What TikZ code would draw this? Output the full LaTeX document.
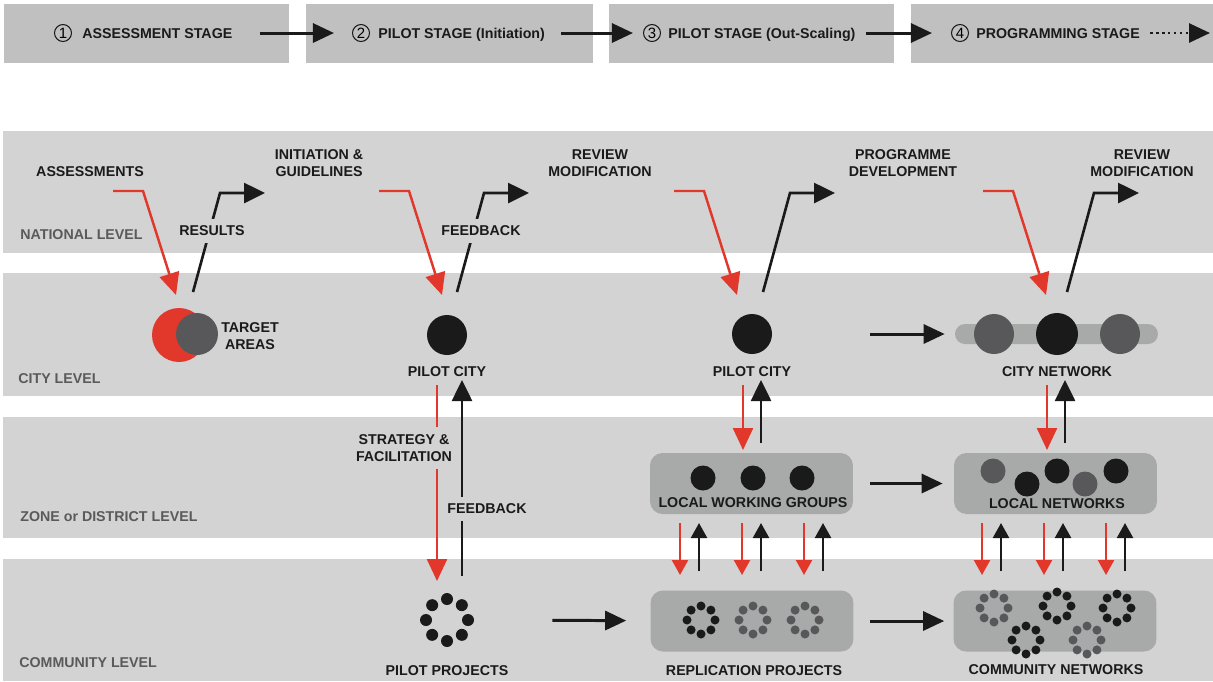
\documentclass[tikz,border=0pt]{standalone}
\usepackage{fontspec}
\setmainfont{Liberation Sans}
\usetikzlibrary{arrows.meta,positioning}
\definecolor{bandgray}{HTML}{D3D3D3}
\definecolor{stagegray}{HTML}{C0C0C0}
\definecolor{boxgray}{HTML}{A8A9A9}
\definecolor{dotgray}{HTML}{58585A}
\definecolor{ink}{HTML}{1A1A1A}
\definecolor{arrred}{HTML}{E2382C}
\definecolor{lvlgray}{HTML}{5A5A5A}
\newcommand{\ring}[4]{\foreach \a in {0,45,...,315}
 	{\fill[#4,shift={(#1)}] (\a:#2) circle (#3);}}
\newcommand{\bfs}{\bfseries\fontsize{8.1}{10}\selectfont}

\begin{document}
\begin{tikzpicture}[x=0.02cm,y=-0.02cm,
	band/.style={fill=bandgray},
	stagebox/.style={fill=stagegray},
	num/.style={circle,draw=ink,line width=0.6pt,inner sep=0pt,minimum size=0.34cm,
		font=\fontsize{8.5}{9}\selectfont},
	stagetxt/.style={anchor=base west,inner sep=0pt,font=\bfs,text=ink},
	lvl/.style={anchor=base west,inner sep=0pt,font=\bfs,text=lvlgray},
	lbl/.style={align=center,inner sep=1pt,font=\bfs,text=ink},
	mask/.style={lbl,fill=bandgray,inner xsep=1pt,inner ysep=4pt},
	dot/.style={circle,inner sep=0pt,minimum size=#1},
	roundbox/.style={fill=boxgray,rounded corners=0.25cm,minimum width=4.06cm,
		minimum height=1.22cm,inner sep=0pt},
	flow/.style={ink,line width=1.7pt,-{Triangle[length=0.42cm,width=0.38cm]}},
	redin/.style={arrred,line width=1.4pt,-{Triangle[length=0.44cm,width=0.4cm]}},
	blkout/.style={ink,line width=1.5pt,-{Triangle[length=0.42cm,width=0.4cm]}},
	smallred/.style={arrred,line width=1.3pt,-{Triangle[length=0.3cm,width=0.32cm]}},
	smallblk/.style={ink,line width=1.3pt,-{Triangle[length=0.3cm,width=0.32cm]}}]
\useasboundingbox (0,0) rectangle (1213,681);
\fill[white] (0,0) rectangle (1213,681);
	\fill[band] (3,131) rectangle (1213,253);
	\fill[band] (3,273) rectangle (1213,396);
	\fill[band] (3,417) rectangle (1213,538);
	\fill[band] (3,559) rectangle (1213,681);
		\fill[stagebox] (4,4) rectangle (289,63);
		\fill[stagebox] (306,4) rectangle (593,63);
		\fill[stagebox] (609,4) rectangle (894,63);
		\fill[stagebox] (911,4) rectangle (1213,63);
	\node[num] (n1) at (63,33) {1};
	\node[num] (n2) at (361,33) {2};
	\node[num] (n3) at (652,33) {3};
	\node[num] (n4) at (960,33) {4};
	\node[stagetxt] (s1) at (82,38) {ASSESSMENT STAGE};
	\node[stagetxt] (s2) at (378,38) {PILOT STAGE (Initiation)};
	\node[stagetxt] (s3) at (668,38) {PILOT STAGE (Out-Scaling)};
	\node[stagetxt] (s4) at (976,38) {PROGRAMMING STAGE};
	\coordinate (stop) at (1210,33);
		\draw[flow,shorten <=0.54cm,shorten >=0.36cm] (s1.east |- n2.west) -- (n2.west);
		\draw[flow,shorten <=0.32cm,shorten >=0.2cm] (s2.east |- n3.west) -- (n3.west);
		\draw[flow,shorten <=0.2cm,shorten >=0.38cm] (s3.east |- n4.west) -- (n4.west);
		\draw[flow,line width=1.6pt,dash pattern=on 1.4pt off 2pt] ([xshift=0.2cm]s4.east |- stop) -- (stop);
	\node[lvl] (nat) at (20,239) {NATIONAL LEVEL};
	\node[lvl] (cit) at (18,383) {CITY LEVEL};
	\node[lvl] (zon) at (20,521) {ZONE or DISTRICT LEVEL};
	\node[lvl] (com) at (19,667) {COMMUNITY LEVEL};
	\node[lbl] (assess) at (90,172) {ASSESSMENTS};
	\node[lbl] (init) at (319,163) {INITIATION \&\\GUIDELINES};
	\node[lbl] (rev1) at (600,163) {REVIEW\\MODIFICATION};
	\node[lbl] (prog) at (903,163) {PROGRAMME\\DEVELOPMENT};
	\node[lbl] (rev2) at (1142,163) {REVIEW\\MODIFICATION};
	\foreach \r/\b [count=\i] in {113/193,379/457,674/763,983/1067}{
		\coordinate (dn\i) at (\r,191);
		\coordinate (up\i) at (\b,292);
		\draw[redin] (dn\i) -- ++(30,0) -- ++(33,104);
		\draw[blkout] (up\i) -- ++(27,-99) -- ++(45,0);}
	\node[mask] (res) at (212,231) {RESULTS};
	\node[mask] (fbn) at (481,231) {FEEDBACK};
	\node[dot=1.08cm,fill=arrred] (tred) at (179,335) {};
	\node[dot=0.84cm,fill=dotgray] (tgray) at (197,334) {};
	\node[lbl] (target) at (250,336) {TARGET\\AREAS};
	\node[dot=0.8cm,fill=ink] (pc1) at (447,335) {};
	\node[dot=0.8cm,fill=ink] (pc2) at (752,334) {};
	\node[fill=boxgray,rounded corners=0.2cm,minimum width=4.06cm,minimum height=0.4cm,
		inner sep=0pt] (bar) at (1056.5,334) {};
	\node[dot=0.8cm,fill=dotgray] (cn1) at (994,334) {};
	\node[dot=0.84cm,fill=ink] (cn2) at (1057,334) {};
	\node[dot=0.8cm,fill=dotgray] (cn3) at (1120,334) {};
	\node[lbl] (pcl1) at (447,372) {PILOT CITY};
	\node[lbl] (pcl2) at (752,372) {PILOT CITY};
	\node[lbl] (cnl) at (1057,372) {CITY NETWORK};
		\draw[flow,shorten <=1.96cm,shorten >=0.2cm] (pc2) -- (bar);
	\coordinate (sf0) at (437,385); \coordinate (sf1) at (437,581);
	\coordinate (fb0) at (462,576); \coordinate (fb1) at (462,380);
		\draw[redin] (sf0) -- (sf1);
		\draw[blkout] (fb0) -- (fb1);
	\node[mask] (strat) at (404,448) {STRATEGY \&\\FACILITATION};
	\node[mask] (fbz) at (487,509) {FEEDBACK};
	\foreach \r [count=\i] in {743,1047}{
		\coordinate (cd\i) at (\r,385); \coordinate (ce\i) at (\r,450);
		\coordinate (cu\i) at (\r+18,443); \coordinate (cv\i) at (\r+18,380);
		\draw[redin] (cd\i) -- (ce\i);
		\draw[blkout] (cu\i) -- (cv\i);}
	\node[roundbox] (lwg) at (751.5,483.5) {};
	\node[roundbox] (ln) at (1055.5,483.5) {};
		\draw[flow,shorten <=0.34cm,shorten >=0.22cm] (lwg) -- (ln);
	\foreach \p in {703,753,802}
		\fill[ink] (\p,478) circle (12.5);
	\fill[dotgray] (993,471) circle (12.5);
	\fill[ink] (1027,484) circle (12.5);
	\fill[ink] (1057,471) circle (12.5);
	\fill[dotgray] (1085,484) circle (12.5);
	\fill[ink] (1116,471) circle (12.5);
	\node[lbl] (lwgl) at (753,503) {LOCAL WORKING GROUPS};
	\node[lbl] (lnl) at (1057,504) {LOCAL NETWORKS};
	\foreach \r [count=\i] in {680,742,804,982,1044,1106}{
		\coordinate (zd\i) at (\r,523); \coordinate (ze\i) at (\r,575);
		\coordinate (zu\i) at (\r+19,571); \coordinate (zv\i) at (\r+19,523);
		\draw[smallred] (zd\i) -- (ze\i);
		\draw[smallblk] (zu\i) -- (zv\i);}
	\node[dot=1.08cm] (pp) at (447,620) {};
	\ring{447,620}{21}{6}{ink}
	\node[roundbox] (rp) at (752,621) {};
	\node[roundbox] (cn) at (1055,621) {};
		\draw[flow,shorten <=1.56cm,shorten >=0.48cm] (pp) -- (rp);
		\draw[flow,shorten <=0.32cm,shorten >=0.18cm] (rp) -- (cn);
	\ring{701,620}{14}{4.5}{ink}
	\ring{753,620}{14}{4.5}{dotgray}
	\ring{805,620}{14}{4.5}{dotgray}
	\ring{994,608}{14}{4.5}{dotgray}
	\ring{1026,640}{14}{4.5}{ink}
	\ring{1057,606}{14}{4.5}{ink}
	\ring{1087,640}{14}{4.5}{dotgray}
	\ring{1117,608}{14}{4.5}{ink}
	\node[lbl] (ppl) at (447,671) {PILOT PROJECTS};
	\node[lbl] (rpl) at (754,671) {REPLICATION PROJECTS};
	\node[lbl] (cnl2) at (1056,670) {COMMUNITY NETWORKS};
\end{tikzpicture}
\end{document}
